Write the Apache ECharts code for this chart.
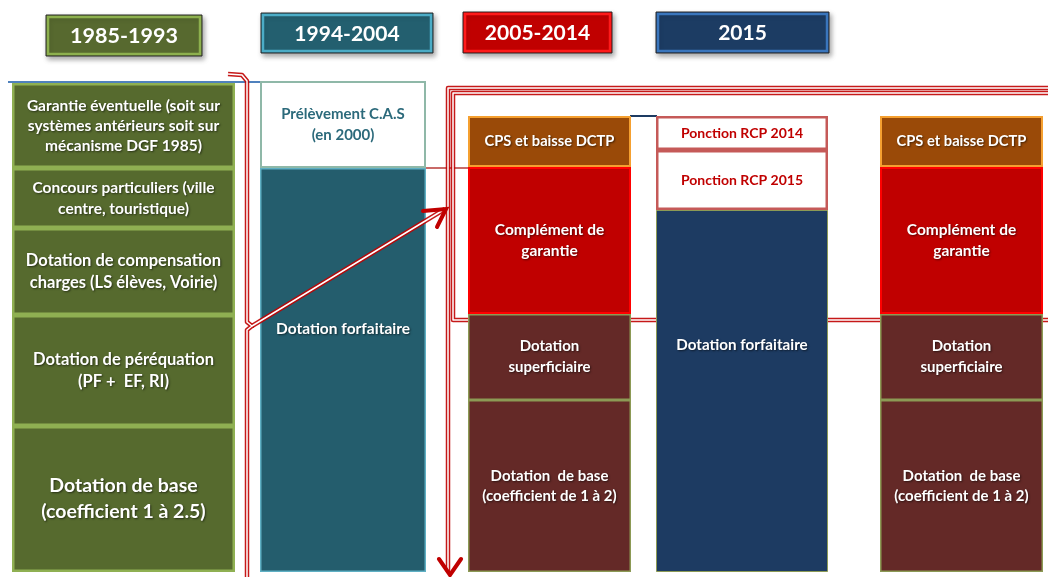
<!DOCTYPE html>
<html>
<head>
<meta charset="utf-8">
<style>
  html, body { margin: 0; padding: 0; background: #fff; }
  #chart { width: 1048px; height: 577px; }
</style>
<script src="https://cdn.jsdelivr.net/npm/echarts@6/dist/echarts.min.js"></script>
</head>
<body>
<div id="chart"></div>
<script>
  // periods shown in the header boxes (the last column has no header)
  const periods = ['1985-1993', '1994-2004', '2005-2014', '2015'];

  // segments of each column, from bottom to top
  const seg1985 = ['Dotation de base\n(coefficient 1 à 2.5)', 'Dotation de péréquation\n(PF +  EF, RI)',
    'Dotation de compensation\ncharges (LS élèves, Voirie)', 'Concours particuliers (ville\ncentre, touristique)',
    'Garantie éventuelle (soit sur\nsystèmes antérieurs soit sur\nmécanisme DGF 1985)'];
  const val1985 = [146, 111, 87, 60, 85];

  const seg1994 = ['Dotation forfaitaire', 'Prélèvement C.A.S\n(en 2000)'];
  const val1994 = [404, 87];

  const seg2005 = ['Dotation  de base\n(coefficient de 1 à 2)', 'Dotation\nsuperficiaire', 'Complément de\ngarantie', 'CPS et baisse DCTP'];
  const val2005 = [172, 86, 147, 51];

  const seg2015 = ['Dotation forfaitaire', 'Ponction RCP 2015', 'Ponction RCP 2014'];
  const val2015 = [362, 60, 34];

  const segRight = ['Dotation  de base\n(coefficient de 1 à 2)', 'Dotation\nsuperficiaire', 'Complément de\ngarantie', 'CPS et baisse DCTP'];
  const valRight = [172, 86, 147, 51];

  const FONT = 'Lato, "Open Sans", sans-serif';
  const white = '#ffffff';

  // column layout (pixel boxes) and styles
  const layout = [
    { left: 12, width: 223 },
    { left: 260, width: 166 },
    { left: 468, width: 163 },
    { left: 656, width: 172 },
    { left: 880, width: 163 }
  ];

  const st = (fill, border, bw, txt, size, extra) => Object.assign({ fill, border, bw, txt, size }, extra || {});
  const green = '#566a2e', greenB = '#8fb052';
  const maroon = '#642927', maroonB = '#8c9a55';
  const sty1985 = [st(green, greenB, 2.5, white, 19.5, { lh: 26 }), st(green, greenB, 2.5, white, 16.5, { lh: 22 }),
    st(green, greenB, 2.5, white, 16.5, { lh: 22 }), st(green, greenB, 2.5, white, 15.5, { lh: 21 }),
    st(green, greenB, 2.5, white, 15.5, { lh: 20 })];
  const sty1994 = [st('#245d6d', '#5fb0c4', 1.5, white, 15.5, { pos: 'insideTop', dist: 150 }),
    st('#ffffff', '#8fb8a8', 2, '#2c6a7b', 15, { lh: 21 })];
  const sty2005 = [st(maroon, maroonB, 1.5, white, 15, { lh: 20 }), st(maroon, maroonB, 1.5, white, 15, { lh: 21 }),
    st('#c00000', '#ff0000', 2, white, 15.5, { lh: 21 }), st('#9a4a08', '#f5a030', 2, white, 14.7)];
  const sty2015 = [st('#1d3b62', '#8c9a55', 1, white, 15.2, { pos: 'insideTop', dist: 125 }),
    st('#ffffff', '#c55a58', 2.5, '#c00000', 14), st('#ffffff', '#c55a58', 2.5, '#c00000', 14)];

  const columns = [
    [seg1985, val1985, sty1985],
    [seg1994, val1994, sty1994],
    [seg2005, val2005, sty2005],
    [seg2015, val2015, sty2015],
    [segRight, valRight, sty2005]
  ];

  const grid = [], xAxis = [], yAxis = [], series = [];
  columns.forEach(([labels, values, styles], i) => {
    grid.push({ left: layout[i].left, width: layout[i].width, top: 72, bottom: 5 });
    xAxis.push({ type: 'category', gridIndex: i, data: ['c' + i], show: false });
    yAxis.push({ type: 'value', gridIndex: i, min: 0, max: 500, show: false });
    labels.forEach((name, k) => {
      const s = styles[k];
      series.push({
        type: 'bar', name: name, xAxisIndex: i, yAxisIndex: i, stack: 'col' + i,
        barWidth: '100%', data: [values[k]], z: 3,
        itemStyle: { color: s.fill, borderColor: s.border, borderWidth: s.bw },
        label: {
          show: true, formatter: name, position: s.pos || 'inside', distance: s.dist || 5,
          color: s.txt, fontFamily: FONT, fontWeight: 'bold', fontSize: s.size,
          lineHeight: s.lh || Math.round(s.size * 1.35), align: 'center',
          textShadowColor: s.txt === white ? 'rgba(0,0,0,0.55)' : 'transparent',
          textShadowBlur: 2, textShadowOffsetX: 1, textShadowOffsetY: 1
        },
        emphasis: { disabled: true }
      });
    });
  });

  // header boxes
  const headers = [
    { x: 46, y: 15, w: 156, h: 41, fill: '#57692f', stroke: '#8db04e', size: 21.5 },
    { x: 261, y: 13, w: 172, h: 40, fill: '#235f6f', stroke: '#4bacc6', size: 21 },
    { x: 463, y: 12, w: 149, h: 41, fill: '#c00000', stroke: '#ff1a1a', size: 21 },
    { x: 656, y: 12, w: 173, h: 41, fill: '#1c3c63', stroke: '#3a76bd', size: 21 }
  ];
  const graphic = [];
  headers.forEach((h, i) => {
    graphic.push({
      type: 'rect', z: 10, shape: { x: h.x, y: h.y, width: h.w, height: h.h },
      style: { fill: h.fill, stroke: '#2b2b2b', lineWidth: 1, shadowBlur: 5, shadowOffsetX: 2, shadowOffsetY: 3, shadowColor: 'rgba(0,0,0,0.35)' }
    });
    graphic.push({
      type: 'rect', z: 11, shape: { x: h.x + 2, y: h.y + 2, width: h.w - 4, height: h.h - 4 },
      style: { fill: 'none', stroke: h.stroke, lineWidth: 2.5 }
    });
    graphic.push({
      type: 'text', z: 12, x: h.x + h.w / 2, y: h.y + h.h / 2 + 1,
      style: {
        text: periods[i], fill: white, font: 'bold ' + h.size + 'px ' + FONT, align: 'center', verticalAlign: 'middle',
        shadowColor: 'rgba(0,0,0,0.6)', shadowBlur: 2, shadowOffsetX: 1, shadowOffsetY: 1
      }
    });
  });

  // blue rule above the first two columns
  graphic.push({ type: 'line', z: 2, shape: { x1: 8, y1: 82, x2: 262, y2: 82 }, style: { stroke: '#4f81bd', lineWidth: 2 } });
  graphic.push({ type: 'line', z: 2, shape: { x1: 630, y1: 116, x2: 657, y2: 116 }, style: { stroke: '#1d3b62', lineWidth: 2 } });
  // thin link between the prélèvement and CPS boxes
  graphic.push({ type: 'line', z: 2, shape: { x1: 426, y1: 168, x2: 468, y2: 168 }, style: { stroke: '#c0504d', lineWidth: 2, opacity: 0.85 } });

  // double red connector lines
  const dbl = (points, z) => {
    graphic.push({ type: 'polyline', z: z, shape: { points }, style: { stroke: '#c00000', lineWidth: 4.5, fill: 'none', lineJoin: 'round', opacity: 0.9 } });
    graphic.push({ type: 'polyline', z: z + 0.1, shape: { points }, style: { stroke: '#ffffff', lineWidth: 1.5, fill: 'none', lineJoin: 'round' } });
  };
  dbl([[228, 74], [242, 75], [247, 81], [247, 322], [252, 326], [247, 330], [247, 580]], 4);
  dbl([[252, 326], [445, 209]], 4);
  dbl([[1052, 88], [448, 88], [448, 572]], 2);
  dbl([[1052, 93], [453, 93], [453, 320], [1052, 320]], 2);
  // arrow heads
  graphic.push({ type: 'polyline', z: 5, shape: { points: [[423, 211], [446, 209], [437, 227]] }, style: { stroke: '#c00000', lineWidth: 4, fill: 'none', lineCap: 'round' } });
  graphic.push({ type: 'polyline', z: 5, shape: { points: [[439, 559], [450, 575], [461, 559]] }, style: { stroke: '#c00000', lineWidth: 4, fill: 'none', lineCap: 'round' } });

  const chart = echarts.init(document.getElementById('chart'));
  chart.setOption({
    animation: false,
    backgroundColor: '#ffffff',
    grid, xAxis, yAxis, series, graphic,
    tooltip: { show: false }
  });
</script>
</body>
</html>
